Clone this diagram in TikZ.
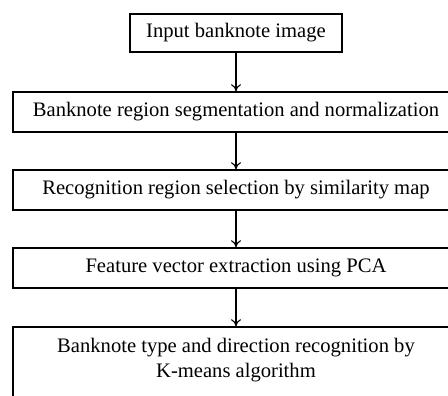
\documentclass[tikz,border=0pt]{standalone}
\usepackage{fontspec}
\setmainfont{Liberation Serif}
\usetikzlibrary{arrows.meta}
\begin{document}
\begin{tikzpicture}[x=1pt,y=-1pt,
  stagebox/.style={draw=black, line width=1.6pt, inner sep=0pt, align=center,
    font=\fontsize{20.6}{24}\selectfont},
  flow/.style={draw=black, line width=1.1pt, -{To[length=7pt,width=10pt]}}]
  \useasboundingbox (0,0) rectangle (448,396);
  \clip (0,0) rectangle (448,396);
  % process stages, top to bottom
  \node[stagebox, minimum width=212pt, minimum height=38pt] (input) at (236,33) {Input banknote image};
  \node[stagebox, minimum width=446.6pt, minimum height=40pt] (seg) at (236,112) {Banknote region segmentation and normalization};
  \node[stagebox, minimum width=446.6pt, minimum height=40pt] (sel) at (236,190) {Recognition region selection by similarity map};
  \node[stagebox, minimum width=446.6pt, minimum height=40pt] (feat) at (236,268) {Feature vector extraction using PCA};
  \node[stagebox, minimum width=446.6pt, minimum height=78pt] (km) at (236,366) {};
  \node[align=center, font=\fontsize{20.6}{25}\selectfont] (kmtext) at (236,360)
    {Banknote type and direction recognition by\\K-means algorithm};
  % connectors
  \draw[flow] (input.south) -- (seg.north);
  \draw[flow] (seg.south) -- (sel.north);
  \draw[flow] (sel.south) -- (feat.north);
  \draw[flow] (feat.south) -- (km.north);
\end{tikzpicture}
\end{document}
